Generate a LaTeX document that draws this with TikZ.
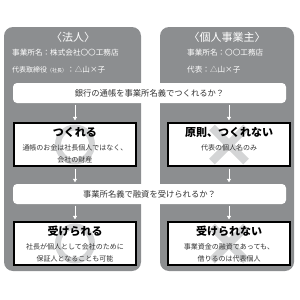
\documentclass[tikz,border=0pt]{standalone}
\usepackage{fontspec}
\setmainfont{Noto Sans CJK JP}
\usetikzlibrary{arrows.meta}
\definecolor{panelgray}{HTML}{8C8E90}
\definecolor{markgray}{HTML}{D4D5D6}
\definecolor{textgray}{HTML}{333333}
\newcommand\anstitle{\fontsize{11}{13}\selectfont\bfseries}
\newcommand\ansnote{\fontsize{7}{9.5}\selectfont\color{textgray}}
\newcommand\headline{\fontsize{7.6}{9}\selectfont}

\begin{document}
\begin{tikzpicture}[x=1pt, y=-1pt,
  panel/.style={fill=panelgray, rounded corners=9pt},
  head/.style={text=white, inner sep=0pt},
  qbox/.style={fill=white, rounded corners=4pt, minimum width=273pt, minimum height=20pt,
    inner sep=0pt, text=textgray, font=\fontsize{8.3}{10}\selectfont},
  abox/.style={draw=black, line width=2.2pt, fill=white, minimum width=122pt, minimum height=43pt, inner sep=0pt},
  alabel/.style={align=center, inner sep=0pt, anchor=north},
  okmark/.style={draw=markgray, line width=6pt},
  ngmark/.style={draw=markgray, line width=8pt},
  flow/.style={-{Triangle[width=4pt, length=3.5pt]}, draw=white, line width=0.9pt,
    shorten >=1.5pt, shorten <=1.5pt}]
  \useasboundingbox (0,0) rectangle (300,300);

  % two gray columns
  \fill[panel] (4,27) rectangle (141,271);
  \fill[panel] (160,27) rectangle (294,271);

  % column heads
  \node[head, font=\fontsize{11}{13}\selectfont] (hcorp) at (73,37) {〈法人〉};
  \node[head, anchor=west, font=\headline] (hcorpname) at (12,53) {事業所名：株式会社〇〇工務店};
  \node[head, anchor=west, font=\fontsize{7}{9}\selectfont] (hcorprep) at (12,70)
    {代表取締役{\fontsize{5}{6}\selectfont（社長）}{\headline ：△山×子}};
  \node[head, font=\fontsize{11}{13}\selectfont] (hsole) at (227,37) {〈個人事業主〉};
  \node[head, anchor=west, font=\headline] (hsolename) at (187,53) {事業所名：〇〇工務店};
  \node[head, anchor=west, font=\headline] (hsolerep) at (187,70) {代表：△山×子};

  % questions
  \node[qbox] (q1) at (149.5,93) {銀行の通帳を事業所名義でつくれるか？};
  \node[qbox] (q2) at (149.5,194) {事業所名義で融資を受けられるか？};

  % answer boxes
  \node[abox] (a1) at (75,144.5) {};
  \node[abox] (b1) at (229,144.5) {};
  \node[abox] (a2) at (75,243.5) {};
  \node[abox] (b2) at (229,243.5) {};

  % faint marks behind the answers
  \foreach \c in {a1,a2} \draw[okmark] (\c) circle (17pt);
  \foreach \c in {b1,b2} {
    \draw[ngmark] ([shift={(-17pt,-17pt)}]\c.center) -- ([shift={(17pt,17pt)}]\c.center);
    \draw[ngmark] ([shift={(-17pt,17pt)}]\c.center) -- ([shift={(17pt,-17pt)}]\c.center);
  }

  % answer texts
  \node[alabel] (ta1) at ([yshift=-5pt]a1.north)
    {\anstitle つくれる\\[2pt]\ansnote 通帳のお金は社長個人ではなく、\\\ansnote 会社の財産};
  \node[alabel] (tb1) at ([yshift=-5pt]b1.north)
    {\anstitle 原則、つくれない\\[2pt]\ansnote 代表の個人名のみ};
  \node[alabel] (ta2) at ([yshift=-5pt]a2.north)
    {\anstitle 受けられる\\[2pt]\ansnote 社長が個人として会社のために\\\ansnote 保証人となることも可能};
  \node[alabel] (tb2) at ([yshift=-5pt]b2.north)
    {\anstitle 受けられない\\[2pt]\ansnote 事業資金の融資であっても、\\\ansnote 借りるのは代表個人};

  % white arrows down each column
  \foreach \c in {a1,b1} {
    \draw[flow] (q1.south -| \c) -- (\c.north);
    \draw[flow] (\c.south) -- (q2.north -| \c);
  }
  \foreach \c in {a2,b2} \draw[flow] (q2.south -| \c) -- (\c.north);
\end{tikzpicture}
\end{document}
